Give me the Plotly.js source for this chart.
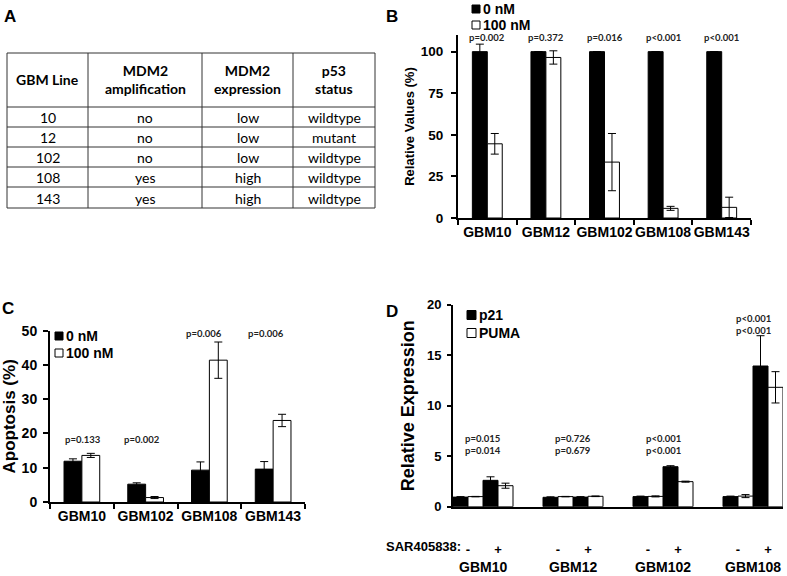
<!DOCTYPE html>
<html><head><meta charset="utf-8">
<script src="https://cdn.plot.ly/plotly-3.0.1.min.js"></script>
<style>html,body{margin:0;padding:0;background:#fff}#chart{width:787px;height:576px}</style>
</head><body><div id="chart"></div>
<script>
// ---------- Panel A: table ----------
const tableHeader = ['GBM Line', 'MDM2<br>amplification', 'MDM2<br>expression', 'p53<br>status'];
const gbmLine = ['10', '12', '102', '108', '143'];
const mdm2Amp = ['no', 'no', 'no', 'yes', 'yes'];
const mdm2Expr = ['low', 'low', 'low', 'high', 'high'];
const p53Status = ['wildtype', 'mutant', 'wildtype', 'wildtype', 'wildtype'];

// ---------- Panel B ----------
const bSeries = ['0 nM', '100 nM'];
const bCats = ['GBM10', 'GBM12', 'GBM102', 'GBM108', 'GBM143'];
const b0nM = [100, 100, 100, 100, 100];
const b0nMErr = [4.5, 0, 0, 0, 0];
const b100nM = [44.6, 96.5, 33.6, 5.8, 6.4];
const b100nMErr = [6.2, 4.0, 17.2, 1.2, 6.1];
const bP = ['p=0.002', 'p=0.372', 'p=0.016', 'p<0.001', 'p<0.001'];

// ---------- Panel C ----------
const cSeries = ['0 nM', '100 nM'];
const cCats = ['GBM10', 'GBM102', 'GBM108', 'GBM143'];
const c0nM = [11.9, 5.2, 9.3, 9.6];
const c0nMErr = [0.7, 0.4, 2.4, 2.2];
const c100nM = [13.6, 1.3, 41.4, 23.8];
const c100nMErr = [0.6, 0.3, 5.3, 1.8];
const cP = ['p=0.133', 'p=0.002', 'p=0.006', 'p=0.006'];

// ---------- Panel D ----------
const dSeries = ['p21', 'PUMA'];
const dLines = ['GBM10', 'GBM12', 'GBM102', 'GBM108'];
const dTreat = ['-', '+'];
const dP21 = [0.95, 2.61, 0.93, 0.95, 1.0, 3.96, 1.0, 13.93];
const dP21Err = [0.05, 0.35, 0.05, 0.05, 0.05, 0.1, 0.05, 3.0];
const dPuma = [1.0, 2.08, 1.0, 1.03, 1.02, 2.48, 1.05, 11.82];
const dPumaErr = [0.02, 0.25, 0.02, 0.03, 0.05, 0.05, 0.15, 1.55];
const dP = [['p=0.015', 'p=0.014'], ['p=0.726', 'p=0.679'], ['p<0.001', 'p<0.001'], ['p<0.001', 'p<0.001']];

// ---------- helpers ----------
const W = 787, H = 576;
const px = x => x / W, py = y => 1 - y / H;
const F = 'Liberation Sans, Arial, sans-serif';
const FC = 'Lato, Carlito, Calibri, sans-serif';
const bf = (size) => ({family: F, size: size, color: '#000', weight: 'bold'});
const pf = {family: FC, size: 9.5, color: '#222', weight: 'bold'};
const err = (arr) => ({type: 'data', array: arr, color: '#000', thickness: 1, width: 4, visible: true});
const blackBar = {color: '#000', line: {color: '#000', width: 1}};
const whiteBar = {color: '#fff', line: {color: '#000', width: 1}};

// D positions: group index * 3 + treatment index (blank slot between lines)
const dX = [];
const dTick = [];
dLines.forEach((l, i) => dTreat.forEach((t, j) => { dX.push(i * 3 + j); dTick.push(t); }));

const traces = [
  // B
  {type: 'bar', name: bSeries[0], x: bCats, y: b0nM, error_y: err(b0nMErr), marker: blackBar,
   width: 0.255, offset: -0.255, xaxis: 'x', yaxis: 'y', showlegend: false},
  {type: 'bar', name: bSeries[1], x: bCats, y: b100nM, error_y: err(b100nMErr), marker: whiteBar,
   width: 0.255, offset: 0, xaxis: 'x', yaxis: 'y', showlegend: false},
  // C
  {type: 'bar', name: cSeries[0], x: cCats, y: c0nM, error_y: err(c0nMErr), marker: blackBar,
   width: 0.28, offset: -0.28, xaxis: 'x2', yaxis: 'y2', showlegend: false},
  {type: 'bar', name: cSeries[1], x: cCats, y: c100nM, error_y: err(c100nMErr), marker: whiteBar,
   width: 0.28, offset: 0, xaxis: 'x2', yaxis: 'y2', showlegend: false},
  // D
  {type: 'bar', name: dSeries[0], x: dX, y: dP21, error_y: err(dP21Err), marker: blackBar,
   width: 0.5, offset: -0.5, xaxis: 'x3', yaxis: 'y3', showlegend: false},
  {type: 'bar', name: dSeries[1], x: dX, y: dPuma, error_y: err(dPumaErr), marker: whiteBar,
   width: 0.5, offset: 0, xaxis: 'x3', yaxis: 'y3', showlegend: false}
];

const axBase = {showgrid: false, zeroline: false, showline: true, linecolor: '#000', linewidth: 2,
  ticks: 'outside', tickcolor: '#000', tickwidth: 2, ticklen: 5, fixedrange: true};

const annotations = [];
const shapes = [];
const ann = (o) => annotations.push(Object.assign({xref: 'paper', yref: 'paper', showarrow: false,
  xanchor: 'center', yanchor: 'middle'}, o));

// ---- Table (panel A) drawn as grid + cell texts ----
const colEdges = [7, 88, 202, 293, 375];
const rowEdges = [53, 107, 127, 147, 167, 187, 208];
rowEdges.forEach(y => shapes.push({type: 'line', xref: 'paper', yref: 'paper',
  x0: px(colEdges[0]), x1: px(colEdges[colEdges.length - 1]), y0: py(y), y1: py(y),
  line: {color: '#333', width: 1}}));
colEdges.forEach(x => shapes.push({type: 'line', xref: 'paper', yref: 'paper',
  x0: px(x), x1: px(x), y0: py(rowEdges[0]), y1: py(rowEdges[rowEdges.length - 1]),
  line: {color: '#333', width: 1}}));
const tableCols = [gbmLine, mdm2Amp, mdm2Expr, p53Status];
tableHeader.forEach((h, c) => ann({text: h, x: px((colEdges[c] + colEdges[c + 1]) / 2),
  y: py((rowEdges[0] + rowEdges[1]) / 2), font: {family: FC, size: 14, color: '#000', weight: 'bold'}}));
tableCols.forEach((col, c) => col.forEach((v, r) => ann({text: v,
  x: px((colEdges[c] + colEdges[c + 1]) / 2), y: py((rowEdges[r + 1] + rowEdges[r + 2]) / 2 + 0.5),
  font: {family: FC, size: 14, color: '#000'}})));

// panel letters
[['A', 10, 17], ['B', 392, 17], ['C', 8, 308], ['D', 392, 311]].forEach(([t, x, y]) =>
  ann({text: t, x: px(x), y: py(y), font: bf(17)}));

// legends (Excel-style key squares + labels)
const key = (names, x0, size, ys) => names.forEach((n, i) => {
  shapes.push({type: 'rect', xref: 'paper', yref: 'paper',
    x0: px(x0), x1: px(x0 + size), y0: py(ys[i] + size / 2), y1: py(ys[i] - size / 2),
    fillcolor: i === 0 ? '#000' : '#fff', line: {color: '#000', width: 1}});
  ann({text: n, x: px(x0 + size + 1), y: py(ys[i]), xanchor: 'left', font: bf(14)});
});
key(bSeries, 472, 8, [9, 25]);
key(cSeries, 55, 8, [336, 353]);
key(dSeries, 467, 9, [315, 333]);

// B p-values
bCats.forEach((c, i) => ann({text: bP[i], x: c, xref: 'x', y: py(37), font: pf}));
// C p-values
const cPy = [18.1, 18.1, 49.3, 49.3];
const cPshift = [1, -4, -5, -7];
cCats.forEach((c, i) => ann({text: cP[i], x: c, xref: 'x2', y: cPy[i], yref: 'y2',
  xshift: cPshift[i], font: pf}));
// D p-values and line labels
const dPy = [6.14, 6.14, 6.14, 18.04];
dLines.forEach((l, i) => {
  ann({text: dP[i].join('<br>'), x: i * 3 + 0.5, xref: 'x3', y: dPy[i], yref: 'y3', font: pf});
  ann({text: l, x: i * 3 + 0.5, xref: 'x3', y: py(567), font: bf(14)});
});
ann({text: 'SAR405838:', x: px(463), y: py(546), xanchor: 'right', font: bf(13)});

const layout = {
  width: W, height: H,
  margin: {l: 0, r: 0, t: 0, b: 0},
  paper_bgcolor: '#fff', plot_bgcolor: 'rgba(0,0,0,0)',
  barmode: 'overlay', showlegend: false,
  font: {family: F, color: '#000'},
  // B
  xaxis: Object.assign({}, axBase, {domain: [px(458), px(751)], anchor: 'y', type: 'category',
    tickson: 'boundaries', range: [-0.5, 4.5], tickangle: 0, tickfont: bf(14)}),
  yaxis: Object.assign({}, axBase, {domain: [py(218), py(35)], anchor: 'x', range: [0, 110],
    tickvals: [0, 25, 50, 75, 100], tickfont: bf(13.5), ticklabelstandoff: 5,
    title: {text: 'Relative Values (%)', font: bf(13), standoff: 3}}),
  // C
  xaxis2: Object.assign({}, axBase, {domain: [px(50), px(305)], anchor: 'y2', type: 'category',
    tickson: 'boundaries', range: [-0.5, 3.5], tickangle: 0, tickfont: bf(14)}),
  yaxis2: Object.assign({}, axBase, {domain: [py(502), py(330.7)], anchor: 'x2', range: [0, 50],
    dtick: 10, tickfont: bf(14), ticklabelstandoff: 3,
    title: {text: 'Apoptosis (%)', font: bf(17), standoff: 2}}),
  // D
  xaxis3: Object.assign({}, axBase, {domain: [px(453), px(783)], anchor: 'y3', range: [-0.5, 10.5],
    ticks: '', tickvals: dX, ticktext: dTick, tickangle: 0, tickfont: bf(13), ticklabelstandoff: 30}),
  yaxis3: Object.assign({}, axBase, {domain: [py(506.7), py(304.7)], anchor: 'x3', range: [0, 20],
    dtick: 5, ticklen: 4, tickfont: bf(13), ticklabelstandoff: 3,
    title: {text: 'Relative Expression', font: bf(18), standoff: 8}}),
  shapes: shapes,
  annotations: annotations
};

Plotly.newPlot('chart', traces, layout, {displayModeBar: false, staticPlot: true});
</script>
</body></html>
